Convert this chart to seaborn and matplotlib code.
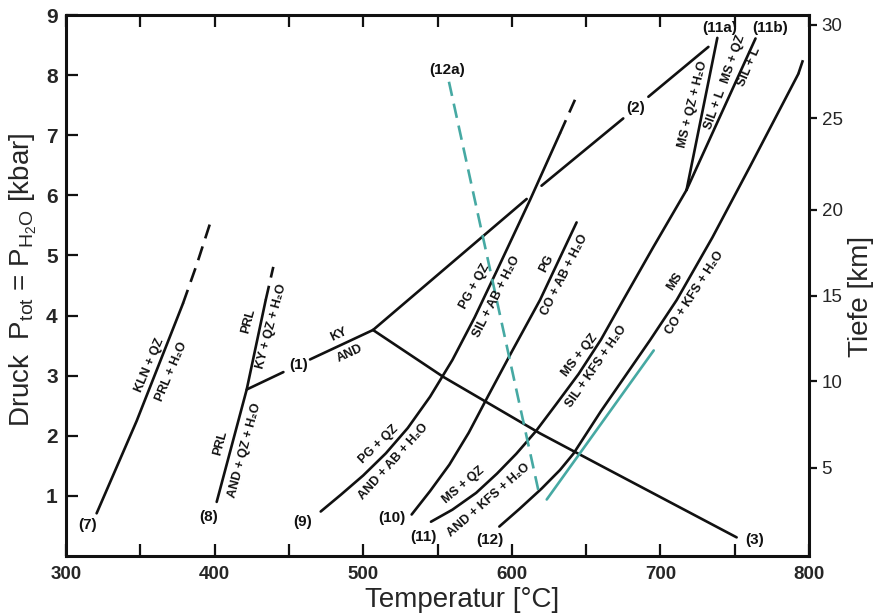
import matplotlib
matplotlib.use('Agg')
import matplotlib.pyplot as plt
import seaborn as sns
from matplotlib.ticker import MultipleLocator

# Reaktionskurven: Temperatur [°C] und Druck [kbar]
T_7 = [320.6, 347.6, 378.7]
P_7 = [0.71, 2.25, 4.20]
T_7d = [378.7, 388.0, 396.9]
P_7d = [4.20, 4.85, 5.53]

T_8 = [401.4, 421.6, 434.4]
P_8 = [0.90, 2.77, 4.26]
T_8d = [434.4, 439.5]
P_8d = [4.26, 4.81]

T_1a = [421.6, 446.3]
P_1a = [2.77, 3.06]
T_1b = [464.2, 506.6]
P_1b = [3.27, 3.76]

T_2a = [506.6, 610.0]
P_2a = [3.76, 5.94]
T_2b = [620.0, 675.0]
P_2b = [6.16, 7.28]
T_2c = [691.9, 732.3]
P_2c = [7.64, 8.47]

T_3 = [506.6, 553.9, 619.0, 659.4, 751.3]
P_3 = [3.76, 2.98, 2.04, 1.51, 0.31]

T_9 = [471.4, 485, 500, 515.3, 530, 545, 560, 575, 590, 612.2, 632.4]
P_9 = [0.74, 1.02, 1.34, 1.71, 2.13, 2.65, 3.26, 3.97, 4.75, 5.92, 7.03]
T_9d = [632.4, 642.5]
P_9d = [7.03, 7.59]

T_10 = [532.6, 545, 558, 571, 584, 600, 619, 643.6]
P_10 = [0.69, 1.08, 1.52, 2.05, 2.66, 3.40, 4.26, 5.55]

T_11 = [545.6, 560, 576, 590, 603, 616, 630, 645, 660, 675, 695, 717.6]
P_11 = [0.57, 0.77, 1.05, 1.37, 1.70, 2.07, 2.53, 3.03, 3.60, 4.26, 5.13, 6.09]
T_11a = [717.6, 738.3]
P_11a = [6.09, 8.62]
T_11b = [717.6, 764.0]
P_11b = [6.09, 8.61]

T_12 = [591.6, 605, 620, 632.4, 641.4, 660, 693, 711, 735, 760.3, 792.8]
P_12 = [0.49, 0.78, 1.12, 1.43, 1.70, 2.41, 3.59, 4.26, 5.30, 6.48, 8.02]
T_12d = [792.8, 796.6]
P_12d = [8.02, 8.30]

T_12a = [557.7, 617.8]
P_12a = [7.89, 1.10]
T_teal = [623.5, 695.5]
P_teal = [0.94, 3.42]

# Nummern der Reaktionen
num_txt = ['(7)', '(8)', '(9)', '(10)', '(11)', '(12)', '(3)', '(1)', '(2)', '(12a)', '(11a)', '(11b)']
num_T = [314.8, 395.8, 459.5, 519.2, 540.5, 585.3, 763.7, 456.3, 683.6, 556.2, 740.1, 773.8]
num_P = [0.52, 0.65, 0.57, 0.63, 0.32, 0.27, 0.26, 3.18, 7.45, 8.09, 8.78, 8.78]

# Mineralreaktionen an den Kurven
rx_txt = ['KLN + QZ', 'PRL + H₂O', 'PRL', 'AND + QZ + H₂O', 'PRL', 'KY + QZ + H₂O',
          'KY', 'AND', 'PG + QZ', 'AND + AB + H₂O', 'PG + QZ', 'SIL + AB + H₂O',
          'PG', 'CO + AB + H₂O', 'MS + QZ', 'AND + KFS + H₂O', 'MS + QZ', 'SIL + KFS + H₂O',
          'MS', 'CO + KFS + H₂O', 'MS + QZ + H₂O', 'SIL + L', 'MS + QZ', 'SIL + L']
rx_T = [356.5, 371.1, 404.1, 420.5, 422.7, 438.4,
        483.2, 491.1, 510.2, 520.3, 575.2, 589.8,
        623.5, 635.8, 567.4, 584.2, 645.9, 657.1,
        709.8, 723.3, 721.6, 736.7, 749.0, 760.0]
rx_P = [3.18, 3.07, 1.88, 1.76, 3.90, 3.82,
        3.68, 3.37, 1.85, 1.57, 4.48, 4.31,
        4.87, 4.68, 1.18, 0.93, 3.34, 3.15,
        4.56, 4.37, 7.52, 7.43, 8.26, 8.14]
rx_rot = [67, 67, 75, 75, 75, 75,
          25, 25, 44, 48, 61, 63,
          63, 63, 40, 41, 52, 55,
          57, 57, 76, 70, 71, 67]

# Tiefenskala (rechte Achse), Lage in kbar
tiefe_p = [1.47, 2.91, 4.33, 5.76, 7.28, 8.84]
tiefe_lab = ['5', '10', '15', '20', '25', '30']

sns.set_theme(style='white')
plt.rcParams['font.family'] = ['Liberation Sans', 'DejaVu Sans']
plt.rcParams['mathtext.fontset'] = 'custom'
plt.rcParams['mathtext.rm'] = 'Liberation Sans'
plt.rcParams['mathtext.default'] = 'regular'

fig = plt.figure(figsize=(8.86, 6.16), dpi=100)
ax = fig.add_axes([0.0745, 0.0974, 0.8386, 0.8782])

black = '#111111'
teal = '#46a9a3'
lw = 1.9
dash = (0, (5.5, 3.2))


def kurve(T, P, color=black, ls='-'):
    sns.lineplot(x=T, y=P, sort=False, estimator=None, color=color,
                 linewidth=lw, linestyle=ls, ax=ax)


for T, P in [(T_7, P_7), (T_8, P_8), (T_1a, P_1a), (T_1b, P_1b), (T_2a, P_2a),
             (T_2b, P_2b), (T_2c, P_2c), (T_3, P_3), (T_9, P_9), (T_10, P_10),
             (T_11, P_11), (T_11a, P_11a), (T_11b, P_11b), (T_12, P_12)]:
    kurve(T, P)
for T, P in [(T_7d, P_7d), (T_8d, P_8d), (T_9d, P_9d), (T_12d, P_12d)]:
    kurve(T, P, ls=dash)
kurve(T_12a, P_12a, color=teal, ls=(0, (5.5, 3.0)))
kurve(T_teal, P_teal, color=teal)

for s, t, p in zip(num_txt, num_T, num_P):
    ax.text(t, p, s, ha='center', va='center', fontsize=11, fontweight='bold', color=black)
for s, t, p, r in zip(rx_txt, rx_T, rx_P, rx_rot):
    ax.text(t, p, s, ha='center', va='center', rotation=r, rotation_mode='anchor',
            fontsize=9, fontweight='bold', color=black)

ax.set_xlim(300, 800)
ax.set_ylim(0, 9)
ax.xaxis.set_major_locator(MultipleLocator(100))
ax.xaxis.set_minor_locator(MultipleLocator(50))
ax.set_yticks(range(1, 10))
ax.tick_params(axis='both', which='both', direction='in', length=8.5, width=1.6,
               top=True, bottom=True, left=True, right=True, color=black)
ax.tick_params(axis='x', which='major', labelsize=13.5, pad=7)
ax.tick_params(axis='y', labelsize=15, pad=6)
for lab in ax.get_xticklabels() + ax.get_yticklabels():
    lab.set_fontweight('bold')
for sp in ax.spines.values():
    sp.set_linewidth(2.2)
    sp.set_color(black)

ax.set_xlabel('Temperatur [°C]', fontsize=20)
ax.xaxis.set_label_coords(0.533, -0.057)
ax.set_ylabel(r'Druck  P$_{tot}$ = P$_{H_2O}$ [kbar]', fontsize=20)
ax.yaxis.set_label_coords(-0.036, 0.51)

ax2 = ax.twinx()
ax2.set_ylim(0, 9)
ax2.set_yticks(tiefe_p, labels=tiefe_lab)
ax2.tick_params(axis='y', direction='out', length=6, width=1.6, labelsize=13.5, pad=3,
                color=black)
for sp in ax2.spines.values():
    sp.set_visible(False)
ax2.set_ylabel('Tiefe [km]', fontsize=20, rotation=90)
ax2.yaxis.set_label_coords(1.053, 0.48)

fig.savefig('out.png', dpi=100)
